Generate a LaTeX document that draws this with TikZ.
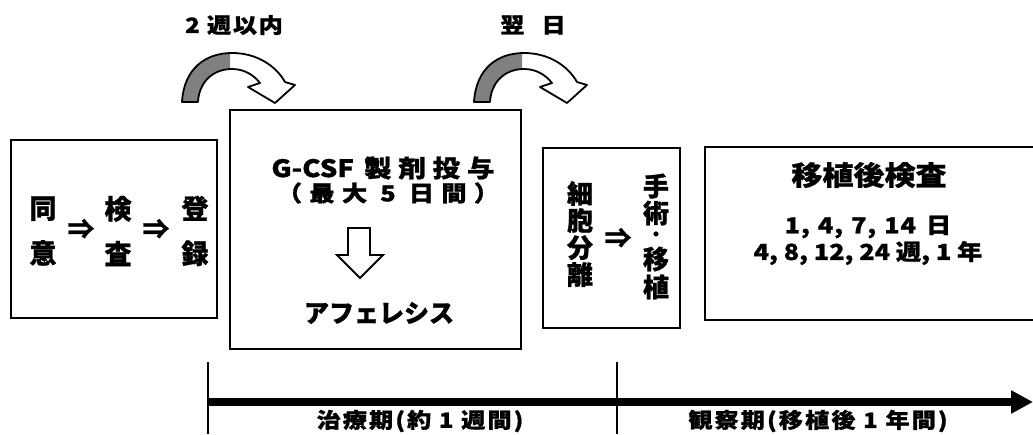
\documentclass[tikz,border=0pt]{standalone}
\usepackage{fontspec}
\usetikzlibrary{arrows.meta}
\newfontfamily\cjk{Noto Sans CJK JP}[FakeStretch=1.15, BoldFeatures={FakeBold=1}]
\newfontfamily\cjkn{Noto Sans CJK JP}[BoldFeatures={FakeBold=1}]
\tikzset{
  frame/.style={draw, line width=2pt, inner sep=0pt},
  txt/.style={inner sep=0pt, align=center, font=\cjk\bfseries},
  curvarrow/.pic={
    \begin{scope}
      \clip (150,40) rectangle (230,110);
      \fill[black!50] (182,102) .. controls (184,68) and (206,53) .. (232,53) .. controls (257,53) and (276,66) .. (285,82) -- (295,85) -- (275,103) -- (248,87) -- (260,83) .. controls (253,74) and (243,69) .. (232,69) .. controls (213,69) and (199,82) .. (198,102) -- cycle;
    \end{scope}
    \draw[line width=1.8pt, line join=round] (182,102) .. controls (184,68) and (206,53) .. (232,53) .. controls (257,53) and (276,66) .. (285,82) -- (295,85) -- (275,103) -- (248,87) -- (260,83) .. controls (253,74) and (243,69) .. (232,69) .. controls (213,69) and (199,82) .. (198,102) -- cycle;
  }
}
\begin{document}
\begin{tikzpicture}[x=1pt,y=-1pt]
\useasboundingbox (0,0) rectangle (1033,434);
\clip (0,0) rectangle (1033,434);
\fill[white] (0,0) rectangle (1033,434);

% curved arrows
\pic at (0,0) {curvarrow};
\pic at (292,0) {curvarrow};
\node[txt, font=\cjk\bfseries\fontsize{21}{24}\selectfont\addfontfeatures{LetterSpace=8}] (lblA) at (234,25) {2 週以内};
\node[txt, font=\cjk\bfseries\fontsize{21}{24}\selectfont] (lblB) at (533,25) {翌\hspace{17pt}日};

% boxes
\node[frame, minimum width=206pt, minimum height=178pt] (b1) at (114,229) {};
\node[frame, minimum width=291pt, minimum height=239pt] (b2) at (375.5,229.5) {};
\node[frame, minimum width=137pt, minimum height=180pt] (b3) at (611.5,238) {};
\node[frame, minimum width=335pt, minimum height=173pt] (b4) at (872.5,233.5) {};

% box 1
\node[txt, font=\cjkn\bfseries\fontsize{27}{45}\selectfont] (c1) at (43,231) {同\\意};
\node[txt, font=\cjkn\bfseries\fontsize{27}{27}\selectfont] (a1) at (81,229) {⇒};
\node[txt, font=\cjkn\bfseries\fontsize{27}{45}\selectfont] (c2) at (118,231) {検\\査};
\node[txt, font=\cjkn\bfseries\fontsize{27}{27}\selectfont] (a2) at (156,229) {⇒};
\node[txt, font=\cjkn\bfseries\fontsize{27}{45}\selectfont] (c3) at (195,231) {登\\録};

% box 2
\node[txt, font=\cjk\bfseries\fontsize{24}{28}\selectfont] (g1) at (383,168) {G-CSF\hspace{10pt}{\addfontfeatures{LetterSpace=28}製剤投与}};
\node[txt, font=\cjk\bfseries\fontsize{22}{26}\selectfont\addfontfeatures{LetterSpace=33}] (g2) at (388,193) {（最大 5 日間）};
\draw[line width=1.8pt, line join=miter] (348,228) -- (370,228) -- (370,255) -- (383,255) -- (360,278) -- (337,255) -- (348,255) -- cycle;
\node[txt, font=\cjkn\bfseries\fontsize{25}{28}\selectfont] (g3) at (379,313) {アフェレシス};

% box 3
\node[txt, font=\cjkn\bfseries\fontsize{26}{27}\selectfont] (v1) at (580,234) {細\\胞\\分\\離};
\node[txt, font=\cjkn\bfseries\fontsize{27}{27}\selectfont] (a3) at (618,238) {⇒};
\node[txt, font=\cjkn\bfseries\fontsize{26}{27}\selectfont] (v2a) at (656,199.5) {手\\術};
\node[txt, font=\cjkn\bfseries\fontsize{17}{17}\selectfont] (v2b) at (656,236) {・};
\node[txt, font=\cjkn\bfseries\fontsize{26}{28}\selectfont] (v2c) at (656,273) {移\\植};

% box 4
\node[txt, font=\cjk\bfseries\fontsize{27}{30}\selectfont] (t4) at (869,175) {移植後検査};
\node[txt, font=\cjk\bfseries\fontsize{22}{26}\selectfont\addfontfeatures{LetterSpace=4}] (l1) at (868,227) {1,\hspace{8pt}4,\hspace{8pt}7,\hspace{8pt}14\hspace{10pt}日};
\node[txt, font=\cjk\bfseries\fontsize{22}{26}\selectfont] (l2) at (868,253) {4, 8, 12, 24 週, 1 年};

% time axis
\coordinate (axL) at (208,402);
\coordinate (axR) at (1033,402);
\coordinate (k1t) at (208,362);
\coordinate (k1b) at (208,434);
\coordinate (k2t) at (617,362);
\coordinate (k2b) at (617,434);
\draw[line width=1.5pt] (k1t) -- (k1b);
\draw[line width=1.5pt] (k2t) -- (k2b);
\draw[line width=8pt, -{Triangle[length=22pt,width=22pt]}] (axL) -- (axR);
\node[txt, font=\cjk\bfseries\fontsize{21}{24}\selectfont\addfontfeatures{LetterSpace=10}] (p1) at (420,421) {治療期(約 1 週間)};
\node[txt, font=\cjk\bfseries\fontsize{21}{24}\selectfont\addfontfeatures{LetterSpace=10}] (p2) at (818,421) {観察期(移植後 1 年間)};
\end{tikzpicture}
\end{document}
